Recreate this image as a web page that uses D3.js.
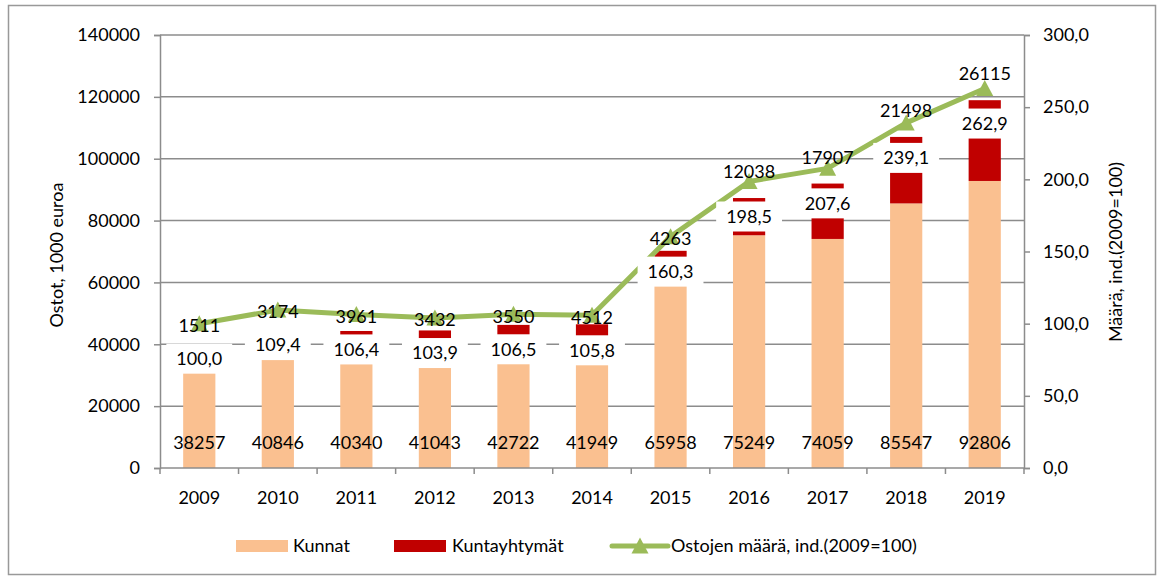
<!DOCTYPE html>
<html>
<head>
<meta charset="utf-8">
<script src="https://cdnjs.cloudflare.com/ajax/libs/d3/7.8.5/d3.min.js"></script>
<style>
  body { margin: 0; background: #fff; }
  text { font-family: Lato, "Open Sans", sans-serif; fill: #000; }
</style>
</head>
<body>
<div class="chart"></div>
<script>
// data
const years = ["2009", "2010", "2011", "2012", "2013", "2014", "2015", "2016", "2017", "2018", "2019"];
const kunnat = [38257, 40846, 40340, 41043, 42722, 41949, 65958, 75249, 74059, 85547, 92806];
const kuntayhtymat = [1511, 3174, 3961, 3432, 3550, 4512, 4263, 12038, 17907, 21498, 26115];
const indeksi = [100.0, 109.4, 106.4, 103.9, 106.5, 105.8, 160.3, 198.5, 207.6, 239.1, 262.9];
const leftTicks = [0, 20000, 40000, 60000, 80000, 100000, 120000, 140000];
const rightTicks = [0, 50, 100, 150, 200, 250, 300];
const seriesNames = ["Kunnat", "Kuntayhtymät", "Ostojen määrä, ind.(2009=100)"];

const svgWidth = 1159;
const svgHeight = 579;
const margin = { top: 35, right: 135, bottom: 111, left: 160 };
const width = svgWidth - margin.left - margin.right;
const height = svgHeight - margin.top - margin.bottom;
const fs = "18px";

const cKunnat = "#fac090";
const cKy = "#c00000";
const cLine = "#9bbb59";
const cGrid = "#8c8c8c";

const rows = years.map((y, i) => ({ year: y, k: kunnat[i], ky: kuntayhtymat[i], idx: indeksi[i] }));

const svg = d3.select(".chart").append("svg")
  .attr("width", svgWidth)
  .attr("height", svgHeight);

// outer frame
svg.append("rect")
  .attr("x", 8.5).attr("y", 5.5)
  .attr("width", 1147).attr("height", 569)
  .attr("fill", "none").attr("stroke", "#999").attr("stroke-width", 1.5);

const chartGroup = svg.append("g")
  .attr("transform", `translate(${margin.left}, ${margin.top})`);

const x = d3.scaleBand().domain(years).range([0, width]).paddingInner(0.59).paddingOuter(0.295);
const yLeft = d3.scaleLinear().domain([0, 140000]).range([height, 0]);
const yRight = d3.scaleLinear().domain([0, 300]).range([height, 0]);
const cx = d => x(d.year) + x.bandwidth() / 2;

// gridlines
chartGroup.append("g").selectAll("line")
  .data(leftTicks.slice(1))
  .enter().append("line")
  .attr("x1", 0).attr("x2", width)
  .attr("y1", d => yLeft(d)).attr("y2", d => yLeft(d))
  .attr("stroke", cGrid).attr("stroke-width", 1.5);

// stacked bars
chartGroup.append("g").selectAll("rect")
  .data(rows).enter().append("rect")
  .attr("x", d => x(d.year)).attr("width", x.bandwidth())
  .attr("y", d => yLeft(d.k)).attr("height", d => yLeft(0) - yLeft(d.k))
  .attr("fill", cKunnat);
chartGroup.append("g").selectAll("rect")
  .data(rows).enter().append("rect")
  .attr("x", d => x(d.year)).attr("width", x.bandwidth())
  .attr("y", d => yLeft(d.k + d.ky)).attr("height", d => yLeft(d.k) - yLeft(d.k + d.ky))
  .attr("fill", cKy);

// axes
const leftAxis = d3.axisLeft(yLeft).tickValues(leftTicks).tickSize(6).tickPadding(14).tickFormat(d3.format("d"));
const rightAxis = d3.axisRight(yRight).tickValues(rightTicks).tickSize(6).tickPadding(13)
  .tickFormat(d => d.toFixed(1).replace(".", ","));
const bottomAxis = d3.axisBottom(x).tickSize(0).tickPadding(23);

function styleAxis(g) {
  g.selectAll("path, line").attr("stroke", cGrid).attr("stroke-width", 1.5);
  g.selectAll("text").style("font-size", fs).attr("fill", "#000");
}
chartGroup.append("g").call(leftAxis).call(styleAxis);
chartGroup.append("g").attr("transform", `translate(${width}, 0)`).call(rightAxis).call(styleAxis);
const xAxis = chartGroup.append("g").attr("transform", `translate(0, ${height})`).call(bottomAxis).call(styleAxis);
xAxis.select(".domain").attr("d", `M0,0H${width}`);
// category separators on x axis
xAxis.selectAll(".sep")
  .data(d3.range(years.length + 1))
  .enter().append("line")
  .attr("x1", i => i * x.step()).attr("x2", i => i * x.step())
  .attr("y1", 0).attr("y2", 6)
  .attr("stroke", cGrid).attr("stroke-width", 1.5);

// index line with triangle markers
const tri = "M-8.5,7.5L8.5,7.5L0,-8.5Z";
chartGroup.append("path")
  .datum(rows)
  .attr("fill", "none").attr("stroke", cLine).attr("stroke-width", 5)
  .attr("stroke-linejoin", "round")
  .attr("d", d3.line().x(cx).y(d => yRight(d.idx)));
chartGroup.append("g").selectAll("path")
  .data(rows).enter().append("path")
  .attr("d", tri)
  .attr("transform", d => `translate(${cx(d)}, ${yRight(d.idx)})`)
  .attr("fill", cLine);

// index labels with white boxes
const idxLabels = chartGroup.append("g").selectAll("g")
  .data(rows).enter().append("g")
  .attr("transform", d => `translate(${cx(d)}, ${yRight(d.idx) + 35})`);
idxLabels.append("rect").attr("fill", "#fff");
idxLabels.append("text")
  .attr("text-anchor", "middle").attr("dy", "0.35em")
  .style("font-size", fs)
  .text(d => d.idx.toFixed(1).replace(".", ","));
idxLabels.each(function() {
  const g = d3.select(this);
  const w = g.select("text").node().getComputedTextLength() + 20;
  g.select("rect").attr("x", -w / 2).attr("y", -15).attr("width", w).attr("height", 30);
});

// Kuntayhtymät labels
chartGroup.append("g").selectAll("text")
  .data(rows).enter().append("text")
  .attr("x", cx)
  .attr("y", d => d.idx > 180 ? yLeft(d.k + d.ky) - 26 : yRight(d.idx) + 2)
  .attr("dy", "0.35em").attr("text-anchor", "middle")
  .style("font-size", fs)
  .text(d => d.ky);

// Kunnat labels near the base
chartGroup.append("g").selectAll("text")
  .data(rows).enter().append("text")
  .attr("x", cx)
  .attr("y", yLeft(0) - 25)
  .attr("dy", "0.35em").attr("text-anchor", "middle")
  .style("font-size", fs)
  .text(d => d.k);

// axis titles
svg.append("text")
  .attr("transform", "translate(57, 255) rotate(-90)")
  .attr("text-anchor", "middle").attr("dy", "0.35em")
  .style("font-size", fs)
  .text("Ostot, 1000 euroa");
svg.append("text")
  .attr("transform", "translate(1116, 252) rotate(-90)")
  .attr("text-anchor", "middle").attr("dy", "0.35em")
  .style("font-size", fs)
  .text("Määrä, ind.(2009=100)");

// legend
const legend = svg.append("g").attr("transform", "translate(0, 546)");
legend.append("rect").attr("x", 236).attr("y", -6).attr("width", 52).attr("height", 12).attr("fill", cKunnat);
legend.append("text").attr("x", 293).attr("dy", "0.35em").style("font-size", fs).text(seriesNames[0]);
legend.append("rect").attr("x", 394).attr("y", -6).attr("width", 52).attr("height", 12).attr("fill", cKy);
legend.append("text").attr("x", 452).attr("dy", "0.35em").style("font-size", fs).text(seriesNames[1]);
legend.append("line").attr("x1", 612).attr("x2", 668).attr("stroke", cLine).attr("stroke-width", 5).attr("stroke-linecap", "round");
legend.append("path").attr("d", tri).attr("transform", "translate(640, 0)").attr("fill", cLine);
legend.append("text").attr("x", 671).attr("dy", "0.35em").style("font-size", fs).text(seriesNames[2]);
</script>
</body>
</html>
